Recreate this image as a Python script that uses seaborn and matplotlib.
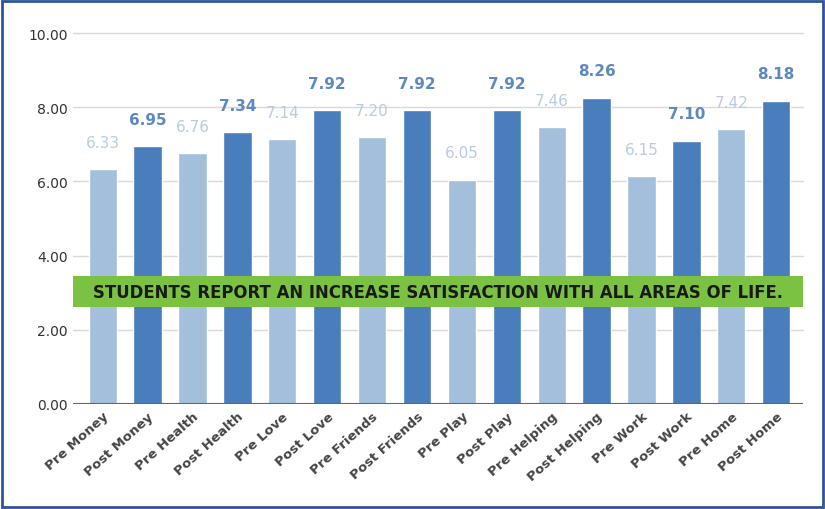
import matplotlib
matplotlib.use("Agg")
import matplotlib.pyplot as plt
import matplotlib.patches as mpatches
import pandas as pd
import seaborn as sns

categories = ['Pre Money', 'Post Money', 'Pre Health', 'Post Health', 'Pre Love', 'Post Love',
              'Pre Friends', 'Post Friends', 'Pre Play', 'Post Play', 'Pre Helping', 'Post Helping',
              'Pre Work', 'Post Work', 'Pre Home', 'Post Home']
values = [6.33, 6.95, 6.76, 7.34, 7.14, 7.92, 7.20, 7.92, 6.05, 7.92, 7.46, 8.26, 6.15, 7.10, 7.42, 8.18]
phase = ['Pre', 'Post'] * 8
yticks = [0, 2, 4, 6, 8, 10]
banner_text = 'STUDENTS REPORT AN INCREASE SATISFACTION WITH ALL AREAS OF LIFE.'

light = '#a3bfdc'
dark = '#4a7dbb'
label_colors = {'Pre': '#b9cbe3', 'Post': '#5d89c2'}

df = pd.DataFrame({'category': categories, 'value': values, 'phase': phase})

sns.set_style('white')
fig = plt.figure(figsize=(8.25, 5.1), dpi=100)
ax = fig.add_axes([0.0885, 0.206, 0.885, 0.727])

sns.barplot(data=df, x='category', y='value', hue='phase', palette={'Pre': light, 'Post': dark},
            dodge=False, width=0.63, saturation=1, legend=False, ax=ax, zorder=3)

ax.set_ylim(0, 10)
ax.set_xlim(-0.66, 15.6)
ax.set_yticks(yticks)
ax.set_yticklabels([f'{t:.2f}' for t in yticks], fontsize=10, color='#333333')
for t in yticks[1:]:
    ax.axhline(t, color='#d9d9d9', lw=1, zorder=1, clip_on=False)
ax.axhline(0, color='#666666', lw=1.5, zorder=4)
for s in ax.spines.values():
    s.set_visible(False)
ax.tick_params(axis='both', length=0, pad=4)
ax.set_xlabel('')
ax.set_ylabel('')
ax.set_xticks(range(len(categories)))
ax.set_xticklabels(categories, rotation=42, ha='right', rotation_mode='anchor',
                   fontsize=9.5, fontweight='bold', color='#444444')

for i, (v, p) in enumerate(zip(values, phase)):
    ax.text(i, v + 0.52, f'{v:.2f}', ha='center', va='bottom', fontsize=11,
            color=label_colors[p], fontweight='bold' if p == 'Post' else 'normal', zorder=5)

banner = mpatches.Rectangle((0, 2.62), 1, 0.83, transform=ax.get_yaxis_transform(),
                            facecolor='#7cc242', edgecolor='none', zorder=6, clip_on=False)
ax.add_patch(banner)
ax.text(0.5, 3.03, banner_text, transform=ax.get_yaxis_transform(), ha='center', va='center',
        fontsize=11.9, fontweight='bold', color='#1a1a1a', zorder=7)

fig.patches.append(mpatches.Rectangle((0.002, 0.003), 0.995, 0.994, transform=fig.transFigure,
                                      fill=False, edgecolor='#2f5597', lw=2))

fig.savefig('out.png', dpi=100)
